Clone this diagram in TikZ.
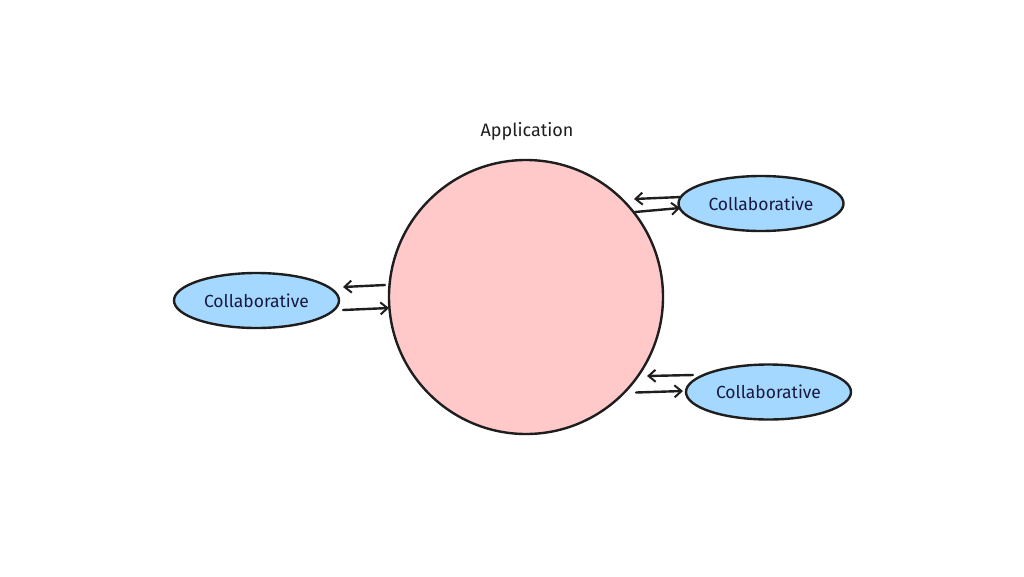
\documentclass[tikz,border=0pt]{standalone}
\usepackage{fontspec}
\setmainfont{Fira Sans}
\usetikzlibrary{shapes.geometric,arrows.meta}
\definecolor{ink}{HTML}{1E1E1E}
\definecolor{appfill}{HTML}{FFC9C9}
\definecolor{collabfill}{HTML}{A5D8FF}
\tikzset{
  appcircle/.style={circle, draw=ink, line width=2.4pt, fill=appfill, minimum size=274pt, inner sep=0pt},
  collab/.style={ellipse, draw=ink, line width=2.4pt, fill=collabfill, minimum width=165pt, minimum height=55pt, inner sep=0pt, font=\fontsize{17.5}{20}\selectfont, text=ink!85!blue},
  flow/.style={draw=ink, line width=2.4pt, line cap=round, -{Straight Barb[length=7pt,width=12pt,line width=2pt]}},
  lbl/.style={font=\fontsize{18}{21}\selectfont, text=ink}
}
\begin{document}
\begin{tikzpicture}[x=1pt,y=-1pt]
\useasboundingbox (0,0) rectangle (1024,576);
\fill[white] (0,0) rectangle (1024,576);
\node[appcircle] (app) at (526,297) {};
\node[lbl] (title) at (527,131) {Application};
\node[collab] (c1) at (256.5,300.5) {Collaborative};
\node[collab] (c2) at (761,203.5) {Collaborative};
\node[collab] (c3) at (768.5,392) {Collaborative};
% left pair
\coordinate (l1s) at (385,285);
\coordinate (l1e) at (343,287);
\coordinate (l2s) at (343,310);
\coordinate (l2e) at (389,308);
\draw[flow] (l1s) -- (l1e);
\draw[flow] (l2s) -- (l2e);
% top right pair
\coordinate (t1s) at (681,197);
\coordinate (t1e) at (634,199);
\coordinate (t2s) at (635,212);
\coordinate (t2e) at (680,208);
\draw[flow] (t1s) -- (t1e);
\draw[flow] (t2s) -- (t2e);
% bottom right pair
\coordinate (b1s) at (693,375);
\coordinate (b1e) at (647,376);
\coordinate (b2s) at (636,392.5);
\coordinate (b2e) at (683,391);
\draw[flow] (b1s) -- (b1e);
\draw[flow] (b2s) -- (b2e);
\end{tikzpicture}
\end{document}
